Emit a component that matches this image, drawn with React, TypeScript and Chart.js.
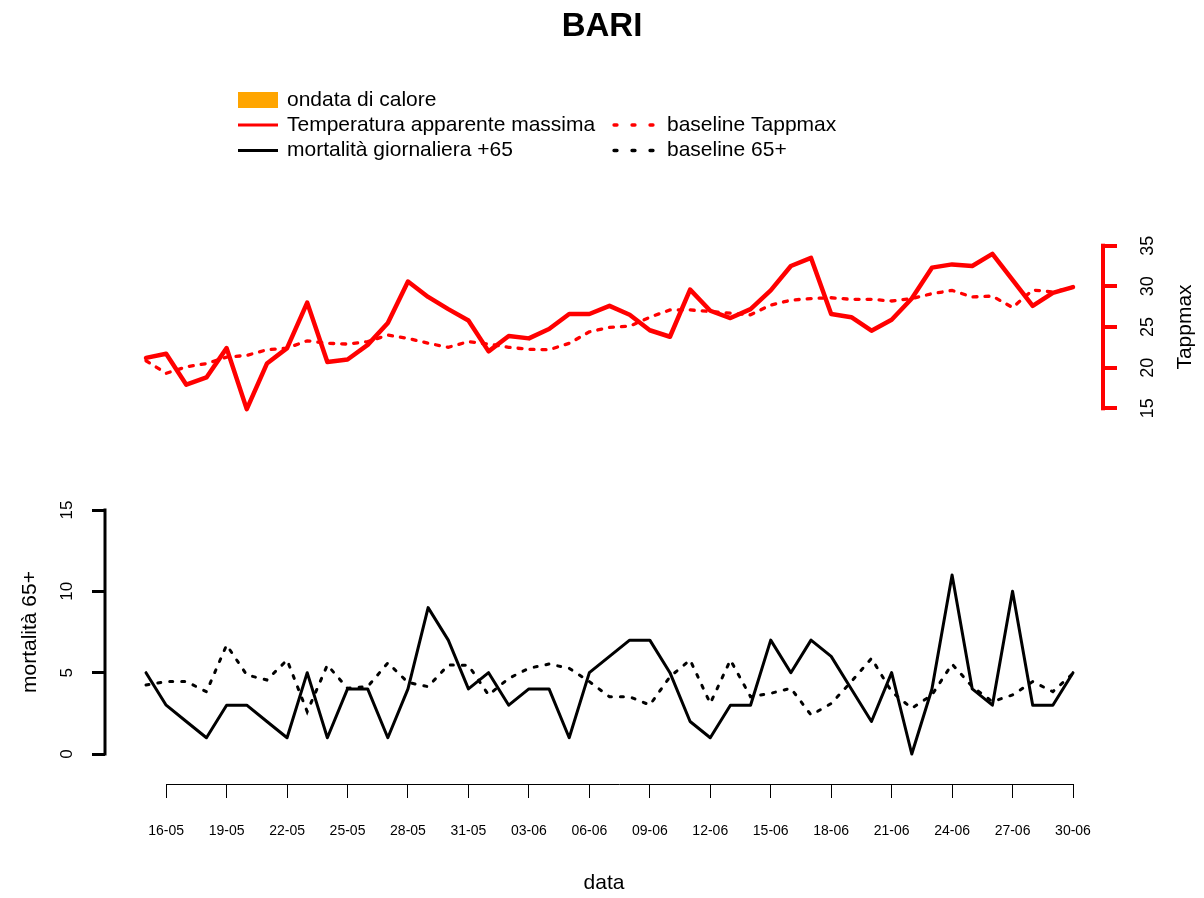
import React, { useEffect, useRef } from 'react';
import { Chart, registerables } from 'chart.js';

Chart.register(...registerables);

// ---------------- data ----------------
const dates = [
  '15-05', '16-05', '17-05', '18-05', '19-05', '20-05', '21-05', '22-05', '23-05', '24-05',
  '25-05', '26-05', '27-05', '28-05', '29-05', '30-05', '31-05', '01-06', '02-06', '03-06',
  '04-06', '05-06', '06-06', '07-06', '08-06', '09-06', '10-06', '11-06', '12-06', '13-06',
  '14-06', '15-06', '16-06', '17-06', '18-06', '19-06', '20-06', '21-06', '22-06', '23-06',
  '24-06', '25-06', '26-06', '27-06', '28-06', '29-06', '30-06',
];

const tappmax = [
  21.2, 21.7, 17.9, 18.8, 22.4, 14.9, 20.5, 22.4, 28.0, 20.7,
  21.0, 22.8, 25.5, 30.6, 28.7, 27.2, 25.8, 22.0, 23.9, 23.6,
  24.75, 26.6, 26.6, 27.6, 26.5, 24.6, 23.8, 29.6, 27.0, 26.1,
  27.2, 29.5, 32.5, 33.5, 26.6, 26.2, 24.55, 25.9, 28.5, 32.3,
  32.7, 32.5, 34.0, 30.8, 27.6, 29.2, 29.9,
];

const baselineTappmax = [
  20.85, 19.3, 20.1, 20.5, 21.3, 21.5, 22.2, 22.4, 23.3, 23.0,
  22.9, 23.2, 24.0, 23.6, 23.0, 22.5, 23.2, 22.9, 22.5, 22.25,
  22.2, 23.0, 24.4, 24.96, 25.1, 26.2, 27.1, 27.1, 26.9, 26.7,
  26.5, 27.7, 28.3, 28.5, 28.6, 28.4, 28.4, 28.2, 28.5, 29.1,
  29.5, 28.7, 28.8, 27.4, 29.55, 29.3, 29.9,
];

const mortality65 = [
  5, 3, 2, 1, 3, 3, 2, 1, 5, 1,
  4, 4, 1, 4, 9, 7, 4, 5, 3, 4,
  4, 1, 5, 6, 7, 7, 5, 2, 1, 3,
  3, 7, 5, 7, 6, 4, 2, 5, 0, 4,
  11, 4, 3, 10, 3, 3, 5,
];

const baseline65 = [
  4.24, 4.45, 4.45, 3.83, 6.7, 4.86, 4.55, 5.78, 2.6, 5.47,
  4.04, 4.14, 5.6, 4.4, 4.14, 5.47, 5.45, 3.63, 4.65, 5.27,
  5.53, 5.27, 4.45, 3.52, 3.52, 3.01, 4.75, 5.78, 3.11, 5.78,
  3.52, 3.73, 4.04, 2.4, 3.1, 4.45, 5.88, 3.83, 2.81, 3.63,
  5.53, 4.14, 3.22, 3.63, 4.45, 3.83, 4.96,
];

const xTickIndex = [1, 4, 7, 10, 13, 16, 19, 22, 25, 28, 31, 34, 37, 40, 43, 46];
const tappTicks = [15, 20, 25, 30, 35];
const mortTicks = [0, 5, 10, 15];

const legendItems = [
  { label: 'ondata di calore', kind: 'box', color: '#FFA500', col: 0, row: 0 },
  { label: 'Temperatura apparente massima', kind: 'line', color: '#FF0000', col: 0, row: 1 },
  { label: 'baseline Tappmax', kind: 'dot', color: '#FF0000', col: 1, row: 1 },
  { label: 'mortalità giornaliera +65', kind: 'line', color: '#000000', col: 0, row: 2 },
  { label: 'baseline 65+', kind: 'dot', color: '#000000', col: 1, row: 2 },
];

// ---------------- layout ----------------
const W = 1204;
const H = 898;
const FONT = "'Liberation Sans', Arial, Helvetica, sans-serif";
const AREA = { left: 105, right: 1103, top: 230, bottom: 784 };
const X_FIRST_PX = 146;
const X_LAST_PX = 1073;
const T_PX = { lo: 408.3, hi: 245.7 }; // where 15 and 35 sit
const M_PX = { lo: 754, hi: 510 }; // where 0 and 15 sit
const LEGEND = { symX: 238, symW: 40, textX: 287, col2SymX: 612, col2SymW: 43, col2TextX: 667, rows: [100, 125, 150.5] };
const TITLE_SIZE = 33;
const TITLE_PAD_TOP = 7.5;

function yRange(vLo: number, vHi: number, pLo: number, pHi: number) {
  const per = (pLo - pHi) / (vHi - vLo);
  return { min: vLo - (AREA.bottom - pLo) / per, max: vHi + (pHi - AREA.top) / per };
}

const n = dates.length;
const xPer = (X_LAST_PX - X_FIRST_PX) / (n - 1);
const xMin = -(X_FIRST_PX - AREA.left) / xPer;
const xMax = n - 1 + (AREA.right - X_LAST_PX) / xPer;
const tRange = yRange(tappTicks[0], tappTicks[tappTicks.length - 1], T_PX.lo, T_PX.hi);
const mRange = yRange(mortTicks[0], mortTicks[mortTicks.length - 1], M_PX.lo, M_PX.hi);

const toXY = (arr: number[]) => arr.map((v, i) => ({ x: i, y: v }));

const decorPlugin = {
  id: 'decor',
  afterDraw(chart: any) {
    const ctx = chart.ctx as CanvasRenderingContext2D;
    const a = chart.chartArea;
    const xs = chart.scales.x;
    const yT = chart.scales.yT;
    const yM = chart.scales.yM;
    ctx.save();

    // x axis line (between first and last tick)
    ctx.strokeStyle = '#000';
    ctx.lineWidth = 1;
    ctx.beginPath();
    ctx.moveTo(xs.getPixelForValue(xTickIndex[0]), a.bottom + 0.5);
    ctx.lineTo(xs.getPixelForValue(xTickIndex[xTickIndex.length - 1]), a.bottom + 0.5);
    ctx.stroke();

    // Tappmax axis line
    ctx.strokeStyle = '#FF0000';
    ctx.lineWidth = 4;
    ctx.lineCap = 'square';
    ctx.beginPath();
    ctx.moveTo(a.right, yT.getPixelForValue(tappTicks[0]));
    ctx.lineTo(a.right, yT.getPixelForValue(tappTicks[tappTicks.length - 1]));
    ctx.stroke();

    // mortality axis line
    ctx.strokeStyle = '#000';
    ctx.lineWidth = 3;
    ctx.beginPath();
    ctx.moveTo(a.left, yM.getPixelForValue(mortTicks[0]));
    ctx.lineTo(a.left, yM.getPixelForValue(mortTicks[mortTicks.length - 1]));
    ctx.stroke();

    // axis titles
    ctx.fillStyle = '#000';
    ctx.font = `21px ${FONT}`;
    ctx.textAlign = 'center';
    ctx.textBaseline = 'middle';
    const tMid = (yT.getPixelForValue(tappTicks[0]) + yT.getPixelForValue(tappTicks[tappTicks.length - 1])) / 2;
    ctx.save();
    ctx.translate(1185, tMid);
    ctx.rotate(-Math.PI / 2);
    ctx.fillText('Tappmax', 0, 0);
    ctx.restore();
    const mMid = (yM.getPixelForValue(mortTicks[0]) + yM.getPixelForValue(mortTicks[mortTicks.length - 1])) / 2;
    ctx.save();
    ctx.translate(30, mMid);
    ctx.rotate(-Math.PI / 2);
    ctx.fillText('mortalità 65+', 0, 0);
    ctx.restore();

    // legend
    ctx.textAlign = 'left';
    ctx.textBaseline = 'middle';
    ctx.font = `21px ${FONT}`;
    for (const it of legendItems) {
      const y = LEGEND.rows[it.row];
      const sx = it.col === 0 ? LEGEND.symX : LEGEND.col2SymX;
      const sw = it.col === 0 ? LEGEND.symW : LEGEND.col2SymW;
      const tx = it.col === 0 ? LEGEND.textX : LEGEND.col2TextX;
      if (it.kind === 'box') {
        ctx.fillStyle = it.color;
        ctx.fillRect(sx, y - 8, sw, 16);
      } else if (it.kind === 'line') {
        ctx.strokeStyle = it.color;
        ctx.lineWidth = 3;
        ctx.lineCap = 'butt';
        ctx.setLineDash([]);
        ctx.beginPath();
        ctx.moveTo(sx, y);
        ctx.lineTo(sx + sw, y);
        ctx.stroke();
      } else {
        ctx.strokeStyle = it.color;
        ctx.lineWidth = 3.3;
        ctx.lineCap = 'round';
        ctx.setLineDash([3, 15]);
        ctx.beginPath();
        ctx.moveTo(sx + 2, y);
        ctx.lineTo(sx + sw, y);
        ctx.stroke();
        ctx.setLineDash([]);
      }
      ctx.fillStyle = '#000';
      ctx.fillText(it.label, tx, y);
    }
    ctx.restore();
  },
};

export default function App() {
  const ref = useRef<HTMLCanvasElement | null>(null);

  useEffect(() => {
    if (!ref.current) return;
    Chart.defaults.font.family = FONT;
    const chart = new Chart(ref.current, {
      type: 'line',
      data: {
        datasets: [
          {
            label: 'Temperatura apparente massima',
            data: toXY(tappmax),
            yAxisID: 'yT',
            borderColor: '#FF0000',
            borderWidth: 4.5,
            pointRadius: 0,
            tension: 0,
            borderJoinStyle: 'round',
            borderCapStyle: 'round',
            clip: false,
          },
          {
            label: 'baseline Tappmax',
            data: toXY(baselineTappmax),
            yAxisID: 'yT',
            borderColor: '#FF0000',
            borderWidth: 3.3,
            borderDash: [4, 8],
            borderCapStyle: 'round',
            pointRadius: 0,
            tension: 0,
            clip: false,
          },
          {
            label: 'mortalità giornaliera +65',
            data: toXY(mortality65),
            yAxisID: 'yM',
            borderColor: '#000000',
            borderWidth: 3,
            pointRadius: 0,
            tension: 0,
            borderJoinStyle: 'round',
            borderCapStyle: 'round',
            clip: false,
          },
          {
            label: 'baseline 65+',
            data: toXY(baseline65),
            yAxisID: 'yM',
            borderColor: '#000000',
            borderWidth: 3,
            borderDash: [3, 9],
            borderCapStyle: 'round',
            pointRadius: 0,
            tension: 0,
            clip: false,
          },
        ],
      },
      options: {
        animation: false,
        responsive: false,
        devicePixelRatio: 1,
        events: [],
        layout: { padding: 0 },
        plugins: {
          legend: { display: false },
          tooltip: { enabled: false },
          title: {
            display: true,
            text: 'BARI',
            color: '#000',
            font: { family: FONT, size: TITLE_SIZE, weight: 'bold', lineHeight: 1.2 },
            padding: { top: TITLE_PAD_TOP, bottom: AREA.top - TITLE_PAD_TOP - TITLE_SIZE * 1.2 },
          },
        },
        scales: {
          x: {
            type: 'linear',
            position: 'bottom',
            min: xMin,
            max: xMax,
            afterBuildTicks: (s: any) => {
              s.ticks = xTickIndex.map((v) => ({ value: v }));
            },
            afterFit: (s: any) => {
              s.height = H - AREA.bottom;
            },
            ticks: {
              callback: (v: any) => dates[v as number],
              font: { size: 14 },
              color: '#000',
              padding: 25,
              autoSkip: false,
              minRotation: 0,
              maxRotation: 0,
            },
            grid: { drawOnChartArea: false, drawTicks: true, tickLength: 14, color: '#000', lineWidth: 1 },
            border: { display: false },
            title: { display: true, text: 'data', color: '#000', font: { size: 21 }, padding: { top: 0, bottom: 2 } },
          },
          yT: {
            type: 'linear',
            position: 'right',
            min: tRange.min,
            max: tRange.max,
            afterBuildTicks: (s: any) => {
              s.ticks = tappTicks.map((v) => ({ value: v }));
            },
            afterFit: (s: any) => {
              s.width = W - AREA.right;
            },
            ticks: {
              font: { size: 18 },
              color: '#000',
              padding: 21,
              autoSkip: false,
              minRotation: 90,
              maxRotation: 90,
              crossAlign: 'center',
            },
            grid: { drawOnChartArea: false, drawTicks: true, tickLength: 14, color: '#FF0000', lineWidth: 4 },
            border: { display: false },
          },
          yM: {
            type: 'linear',
            position: 'left',
            min: mRange.min,
            max: mRange.max,
            afterBuildTicks: (s: any) => {
              s.ticks = mortTicks.map((v) => ({ value: v }));
            },
            afterFit: (s: any) => {
              s.width = AREA.left;
            },
            ticks: {
              font: { size: 17 },
              color: '#000',
              padding: 15,
              autoSkip: false,
              minRotation: 90,
              maxRotation: 90,
              crossAlign: 'center',
            },
            grid: { drawOnChartArea: false, drawTicks: true, tickLength: 13, color: '#000', lineWidth: 3 },
            border: { display: false },
          },
        },
      } as any,
      plugins: [decorPlugin],
    });
    return () => chart.destroy();
  }, []);

  return (
    <div style={{ position: 'absolute', left: 0, top: 0, width: W, height: H, background: '#fff' }}>
      <canvas ref={ref} width={W} height={H} style={{ display: 'block', width: W, height: H }} />
    </div>
  );
}
